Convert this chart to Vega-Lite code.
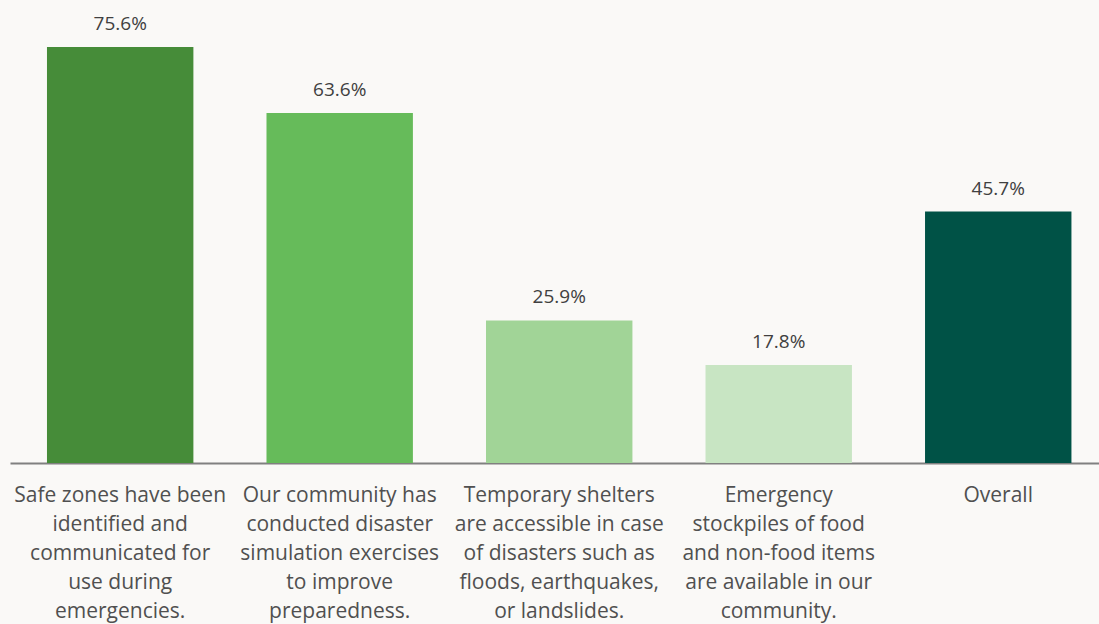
{
  "$schema": "https://vega.github.io/schema/vega-lite/v6.json",
  "autosize": {"type": "none"},
  "width": 1089,
  "height": 463,
  "padding": {"left": 10, "top": 0, "right": 0, "bottom": 161},
  "background": "#FAF9F7",
  "config": {
    "view": {"stroke": null},
    "font": "Open Sans"
  },
  "data": {
    "values": [
      {"item": "Safe zones have been|identified and|communicated for|use during|emergencies.", "pct": 75.6, "color": "#468C39"},
      {"item": "Our community has|conducted disaster|simulation exercises|to improve|preparedness.", "pct": 63.6, "color": "#66BB5A"},
      {"item": "Temporary shelters|are accessible in case|of disasters such as|floods, earthquakes,|or landslides.", "pct": 25.9, "color": "#A1D497"},
      {"item": "Emergency|stockpiles of food|and non-food items|are available in our|community.", "pct": 17.8, "color": "#C8E5C3"},
      {"item": "Overall", "pct": 45.7, "color": "#005246"}
    ]
  },
  "transform": [
    {"calculate": "format(datum.pct, '.1f') + '%'", "as": "label"}
  ],
  "encoding": {
    "x": {
      "field": "item",
      "type": "nominal",
      "sort": null,
      "scale": {"paddingInner": 0.333, "paddingOuter": 0.147, "align": 0.573},
      "axis": {
        "title": null,
        "labelAngle": 0,
        "labelExpr": "split(datum.label, '|')",
        "labelFont": "Open Sans",
        "labelFontSize": 21,
        "labelLineHeight": 29,
        "labelColor": "#505050",
        "labelPadding": 21,
        "labelLimit": 0,
        "labelOverlap": false,
        "labelBound": false,
        "ticks": false,
        "domainColor": "#808080",
        "domainWidth": 2
      }
    },
    "y": {
      "field": "pct",
      "type": "quantitative",
      "scale": {"domain": [0, 84.14], "nice": false},
      "axis": null
    }
  },
  "layer": [
    {
      "mark": {"type": "bar"},
      "encoding": {
        "color": {"field": "color", "type": "nominal", "scale": null}
      }
    },
    {
      "mark": {"type": "text", "baseline": "alphabetic", "dy": -17, "fontSize": 19, "color": "#404040", "font": "Open Sans"},
      "encoding": {
        "text": {"field": "label", "type": "nominal"}
      }
    }
  ]
}
